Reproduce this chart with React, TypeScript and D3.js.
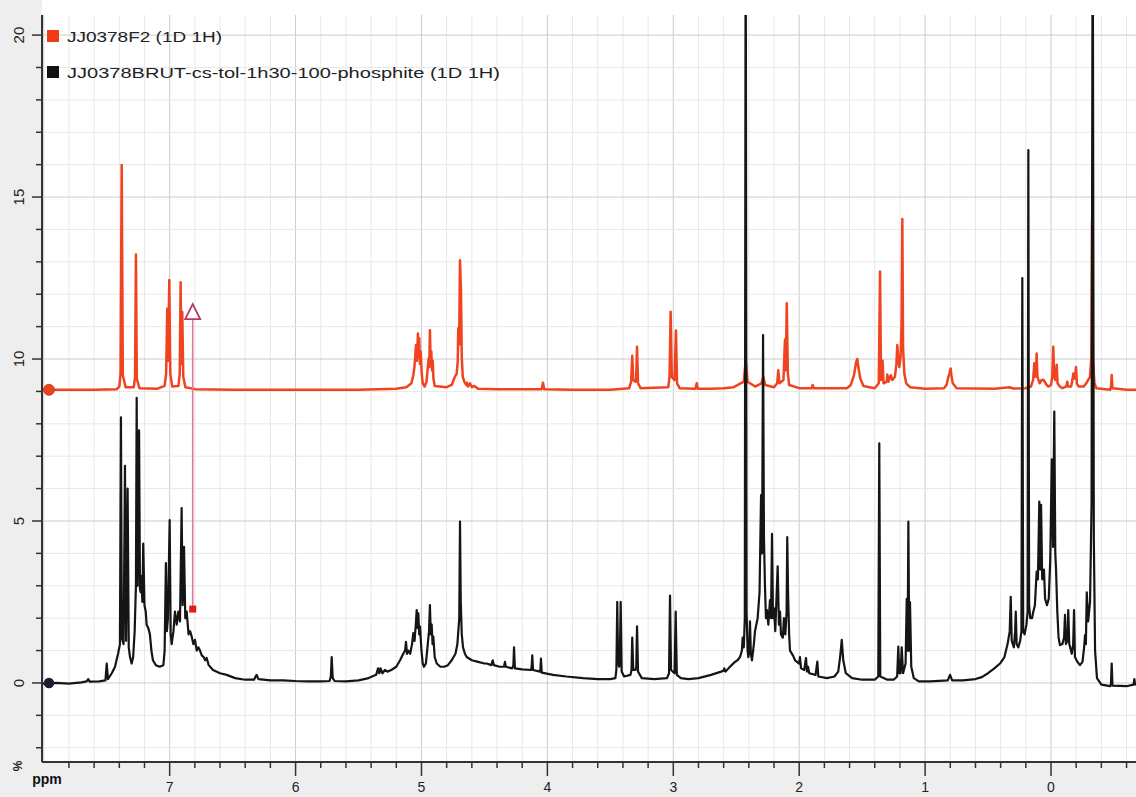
import React from "react";
import * as d3 from "d3";

const W = 1136;
const H = 797;
const M = { left: 42, right: 1136, top: 15, bottom: 762 };

const ppmDomain: [number, number] = [8.014, -0.675];
const intensityDomain: [number, number] = [-2.44, 20.62];
const xLabelTicks = [7, 6, 5, 4, 3, 2, 1, 0];
const yLabelTicks = [0, 5, 10, 15, 20];
const seriesNames = ["JJ0378F2 (1D 1H)", "JJ0378BRUT-cs-tol-1h30-100-phosphite (1D 1H)"];
const redOffset = 9.05;
const markerPpm = 6.817;
const markerTopValue = 11.45;
const markerBottomValue = 2.28;

// black spectrum: [ppm, intensity]
const blackTrace: [number, number][] = [
[8.014,-0.02],[7.9,0.0],[7.8,-0.02],[7.7,0.02],[7.66,0.05],[7.647,0.12],[7.635,0.04],[7.56,0.05],[7.51,0.08],[7.50,0.6],[7.49,0.12],[7.46,0.3],[7.434,0.5],[7.41,0.9],[7.395,1.2],[7.387,8.2],[7.38,1.4],[7.366,1.2],[7.355,6.7],[7.346,1.3],[7.334,6.0],[7.325,1.1],[7.315,0.8],[7.302,0.6],[7.29,0.8],[7.278,1.6],[7.268,3.0],[7.262,8.8],[7.255,3.0],[7.243,7.8],[7.236,2.9],[7.23,2.8],[7.223,3.3],[7.217,2.5],[7.21,4.3],[7.2,2.4],[7.19,2.2],[7.183,1.8],[7.17,1.7],[7.157,1.5],[7.145,1.0],[7.133,0.7],[7.11,0.55],[7.08,0.5],[7.05,0.55],[7.04,1.0],[7.03,3.7],[7.022,1.6],[7.014,2.0],[7.0,5.03],[6.992,1.5],[6.984,1.2],[6.97,1.6],[6.958,2.2],[6.944,1.8],[6.931,2.2],[6.918,1.9],[6.905,5.4],[6.897,2.4],[6.886,4.2],[6.876,2.0],[6.865,2.2],[6.85,1.5],[6.838,1.6],[6.825,1.43],[6.812,1.2],[6.799,1.33],[6.785,1.0],[6.772,1.1],[6.759,1.0],[6.745,0.85],[6.73,0.8],[6.718,0.7],[6.706,0.77],[6.69,0.55],[6.656,0.4],[6.6,0.3],[6.547,0.25],[6.48,0.15],[6.4,0.1],[6.33,0.1],[6.32,0.18],[6.309,0.25],[6.295,0.12],[6.2,0.08],[6.1,0.08],[6.0,0.06],[5.9,0.05],[5.8,0.05],[5.73,0.06],[5.72,0.2],[5.713,0.8],[5.705,0.15],[5.69,0.06],[5.6,0.05],[5.5,0.08],[5.42,0.15],[5.36,0.25],[5.345,0.45],[5.335,0.3],[5.325,0.45],[5.31,0.3],[5.29,0.4],[5.27,0.35],[5.24,0.4],[5.2,0.5],[5.17,0.7],[5.145,0.9],[5.13,1.0],[5.123,1.27],[5.115,0.9],[5.105,1.0],[5.09,0.9],[5.075,1.2],[5.065,1.54],[5.055,1.3],[5.045,1.8],[5.038,2.25],[5.032,1.7],[5.025,2.15],[5.018,1.5],[5.012,1.74],[5.0,1.0],[4.99,0.6],[4.98,0.5],[4.965,0.6],[4.95,1.2],[4.94,1.6],[4.933,2.4],[4.926,1.5],[4.919,1.8],[4.912,1.2],[4.906,1.43],[4.895,0.8],[4.879,0.6],[4.85,0.5],[4.82,0.5],[4.79,0.55],[4.76,0.7],[4.73,0.9],[4.715,1.2],[4.70,2.0],[4.694,4.98],[4.688,2.5],[4.68,1.5],[4.67,1.1],[4.655,0.9],[4.641,0.8],[4.6,0.7],[4.55,0.65],[4.5,0.6],[4.482,0.6],[4.445,0.55],[4.434,0.7],[4.425,0.55],[4.38,0.5],[4.345,0.5],[4.337,0.65],[4.33,0.5],[4.28,0.45],[4.27,0.55],[4.265,1.1],[4.258,0.45],[4.2,0.42],[4.13,0.4],[4.125,0.5],[4.12,0.85],[4.114,0.4],[4.06,0.35],[4.055,0.45],[4.051,0.75],[4.045,0.32],[3.955,0.25],[3.85,0.2],[3.717,0.15],[3.6,0.12],[3.5,0.12],[3.46,0.15],[3.452,0.4],[3.445,2.5],[3.438,0.6],[3.43,0.5],[3.425,0.6],[3.418,2.5],[3.41,0.35],[3.39,0.2],[3.34,0.25],[3.332,0.4],[3.326,1.4],[3.318,0.4],[3.30,0.4],[3.294,0.5],[3.288,1.75],[3.28,0.35],[3.25,0.15],[3.15,0.12],[3.05,0.15],[3.034,0.3],[3.026,2.7],[3.018,0.4],[2.99,0.3],[2.981,2.2],[2.972,0.25],[2.94,0.15],[2.88,0.12],[2.8,0.15],[2.7,0.25],[2.62,0.35],[2.60,0.38],[2.595,0.45],[2.585,0.35],[2.55,0.5],[2.51,0.65],[2.49,0.7],[2.47,0.8],[2.455,1.0],[2.449,1.4],[2.44,1.1],[2.432,2.0],[2.425,25],[2.418,2.2],[2.41,1.0],[2.404,0.8],[2.397,1.0],[2.391,1.9],[2.384,0.9],[2.375,0.7],[2.36,1.2],[2.351,1.6],[2.33,2.0],[2.315,2.8],[2.303,5.8],[2.295,4.0],[2.287,10.74],[2.28,4.5],[2.272,3.0],[2.264,2.0],[2.256,2.25],[2.245,1.8],[2.232,2.56],[2.224,2.0],[2.216,4.6],[2.208,2.0],[2.2,2.3],[2.19,1.6],[2.171,3.6],[2.161,1.8],[2.152,2.2],[2.145,1.5],[2.13,1.4],[2.121,2.0],[2.11,1.5],[2.1,2.2],[2.095,4.5],[2.088,2.7],[2.08,1.5],[2.073,1.0],[2.05,0.85],[2.033,0.7],[2.0,0.6],[1.994,0.8],[1.985,0.45],[1.96,0.4],[1.946,0.77],[1.938,0.35],[1.93,0.5],[1.92,0.3],[1.87,0.25],[1.856,0.66],[1.848,0.2],[1.78,0.15],[1.72,0.2],[1.69,0.35],[1.675,0.8],[1.662,1.33],[1.65,0.7],[1.63,0.3],[1.58,0.15],[1.5,0.1],[1.4,0.1],[1.372,0.2],[1.364,7.4],[1.356,0.2],[1.3,0.1],[1.25,0.1],[1.222,0.2],[1.213,1.12],[1.205,0.3],[1.195,0.3],[1.186,1.1],[1.175,0.3],[1.155,0.6],[1.146,2.6],[1.139,1.0],[1.133,4.98],[1.126,1.0],[1.12,2.5],[1.11,0.5],[1.09,0.15],[1.05,0.05],[0.96,0.05],[0.82,0.08],[0.802,0.25],[0.785,0.08],[0.7,0.08],[0.6,0.12],[0.55,0.18],[0.5,0.3],[0.45,0.45],[0.405,0.6],[0.37,0.8],[0.345,1.2],[0.328,1.6],[0.320,2.66],[0.312,1.3],[0.295,1.1],[0.285,1.6],[0.280,2.2],[0.273,1.2],[0.26,1.1],[0.245,1.3],[0.235,1.6],[0.228,12.5],[0.221,1.6],[0.21,1.5],[0.195,1.8],[0.186,2.2],[0.180,16.45],[0.174,2.4],[0.165,2.0],[0.15,2.0],[0.143,2.16],[0.128,2.4],[0.114,3.44],[0.104,3.2],[0.093,5.6],[0.086,3.5],[0.079,5.5],[0.07,3.2],[0.056,3.5],[0.047,2.6],[0.032,2.4],[0.018,2.6],[0.006,3.8],[-0.006,6.9],[-0.016,4.2],[-0.026,8.38],[-0.034,4.0],[-0.040,3.5],[-0.05,2.2],[-0.06,1.4],[-0.071,1.17],[-0.09,1.2],[-0.104,1.4],[-0.111,2.1],[-0.118,1.2],[-0.13,1.3],[-0.137,2.25],[-0.145,1.2],[-0.165,0.9],[-0.176,1.2],[-0.183,2.25],[-0.19,0.8],[-0.21,0.65],[-0.23,0.55],[-0.25,0.65],[-0.263,1.1],[-0.27,1.48],[-0.277,1.2],[-0.284,2.8],[-0.295,1.9],[-0.31,2.5],[-0.322,5.5],[-0.331,25],[-0.34,4.5],[-0.35,1.0],[-0.365,0.15],[-0.40,-0.05],[-0.47,-0.1],[-0.476,-0.05],[-0.482,0.6],[-0.488,-0.08],[-0.6,-0.1],[-0.655,-0.05],[-0.662,0.12],[-0.668,-0.05],[-0.675,-0.04]
];

// red spectrum: [ppm, intensity above its own baseline]
const redTrace: [number, number][] = [
[8.014,0],[7.6,0],[7.42,0.02],[7.4,0.1],[7.39,0.5],[7.381,6.94],[7.372,0.45],[7.35,0.08],[7.285,0.08],[7.275,0.4],[7.268,4.18],[7.261,0.35],[7.24,0.05],[7.1,0.03],[7.04,0.12],[7.028,0.5],[7.019,2.5],[7.012,0.9],[7.003,3.39],[6.995,0.5],[6.98,0.1],[6.93,0.12],[6.92,0.5],[6.913,3.32],[6.907,0.8],[6.9,2.4],[6.892,0.4],[6.875,0.08],[6.8,0.02],[6.5,0],[6.0,0],[5.5,0],[5.2,0.03],[5.12,0.08],[5.08,0.2],[5.065,0.45],[5.056,0.7],[5.05,1.0],[5.044,1.38],[5.036,0.9],[5.028,1.74],[5.022,1.0],[5.018,1.59],[5.012,0.8],[5.006,1.18],[4.998,0.5],[4.99,0.2],[4.975,0.1],[4.96,0.25],[4.952,0.6],[4.943,0.97],[4.938,0.7],[4.933,1.84],[4.927,0.8],[4.922,1.18],[4.916,0.6],[4.911,0.9],[4.905,0.35],[4.895,0.12],[4.8,0.08],[4.76,0.15],[4.735,0.4],[4.72,0.5],[4.712,0.9],[4.708,1.9],[4.701,1.4],[4.694,4.0],[4.686,3.0],[4.68,1.0],[4.672,0.4],[4.66,0.25],[4.645,0.15],[4.64,0.22],[4.63,0.1],[4.615,0.2],[4.6,0.08],[4.58,0.12],[4.55,0.03],[4.4,0.02],[4.2,0.02],[4.045,0.02],[4.035,0.22],[4.025,0.02],[3.8,0.0],[3.5,0.0],[3.35,0.05],[3.335,0.25],[3.326,1.05],[3.318,0.3],[3.30,0.25],[3.295,0.35],[3.288,1.33],[3.28,0.2],[3.26,0.05],[3.04,0.08],[3.03,0.4],[3.021,2.41],[3.012,0.4],[2.99,0.3],[2.979,1.83],[2.97,0.2],[2.95,0.05],[2.825,0.03],[2.814,0.2],[2.805,0.03],[2.7,0.03],[2.6,0.05],[2.52,0.08],[2.44,0.25],[2.425,0.9],[2.41,0.25],[2.35,0.1],[2.30,0.2],[2.285,0.4],[2.27,0.15],[2.2,0.08],[2.175,0.2],[2.166,0.6],[2.157,0.2],[2.125,0.3],[2.113,1.55],[2.106,0.6],[2.099,2.67],[2.09,0.5],[2.08,0.15],[2.0,0.05],[1.9,0.05],[1.893,0.15],[1.886,0.05],[1.62,0.05],[1.59,0.15],[1.565,0.45],[1.548,0.85],[1.539,0.95],[1.53,0.7],[1.515,0.35],[1.49,0.12],[1.4,0.05],[1.368,0.2],[1.358,3.65],[1.35,0.3],[1.338,0.9],[1.33,0.2],[1.305,0.25],[1.3,0.47],[1.292,0.25],[1.273,0.45],[1.26,0.3],[1.24,0.4],[1.228,0.8],[1.221,1.38],[1.212,0.9],[1.205,0.7],[1.195,1.0],[1.187,2.0],[1.181,5.27],[1.175,1.3],[1.165,0.5],[1.15,0.2],[1.12,0.08],[1.0,0.03],[0.85,0.05],[0.83,0.15],[0.815,0.4],[0.807,0.5],[0.797,0.66],[0.79,0.4],[0.78,0.2],[0.75,0.05],[0.45,0.03],[0.33,0.08],[0.3,0.04],[0.2,0.05],[0.16,0.1],[0.142,0.3],[0.133,0.82],[0.125,0.4],[0.119,0.5],[0.114,1.12],[0.108,0.4],[0.09,0.2],[0.075,0.3],[0.061,0.31],[0.05,0.25],[0.035,0.15],[0.02,0.1],[0.0,0.15],[-0.01,0.4],[-0.018,1.33],[-0.025,0.4],[-0.035,0.3],[-0.045,0.77],[-0.052,0.2],[-0.07,0.1],[-0.09,0.05],[-0.12,0.1],[-0.129,0.25],[-0.135,0.1],[-0.16,0.1],[-0.17,0.3],[-0.177,0.5],[-0.185,0.35],[-0.193,0.5],[-0.199,0.7],[-0.205,0.2],[-0.22,0.1],[-0.26,0.1],[-0.28,0.2],[-0.294,0.3],[-0.31,0.4],[-0.32,1.0],[-0.326,5.2],[-0.332,1.0],[-0.345,0.2],[-0.36,0.05],[-0.47,0.0],[-0.477,0.1],[-0.482,0.46],[-0.488,0.05],[-0.6,0.0],[-0.675,0.0]
];

const FONT = "'Liberation Sans', Arial, sans-serif";

export default function App() {
  const x = d3.scaleLinear().domain(ppmDomain).range([M.left, M.right]);
  const y = d3.scaleLinear().domain(intensityDomain).range([M.bottom, M.top]);

  const sortDesc = (arr: [number, number][]) => [...arr].sort((a, b) => b[0] - a[0]);
  const line = d3.line<[number, number]>().x((d) => x(d[0])).y((d) => y(d[1]));
  const redLine = d3.line<[number, number]>().x((d) => x(d[0])).y((d) => y(d[1] + redOffset));

  const xGrid = d3.range(-3, 41).map((i) => ({ v: i * 0.2, major: i % 5 === 0 }));
  const yGrid = d3.range(-2, 21).map((v) => ({ v, major: v % 5 === 0 }));

  const mx = x(markerPpm);
  const tTop = y(markerTopValue);

  return (
    <svg width={W} height={H} style={{ position: "absolute", left: 0, top: 0, background: "#fff" }}>
      <defs>
        <clipPath id="plotClip">
          <rect x={M.left} y={M.top} width={M.right - M.left} height={M.bottom - M.top} />
        </clipPath>
      </defs>
      <rect x={0} y={0} width={W} height={H} fill="#ffffff" />
      <rect x={0} y={0} width={M.left} height={H} fill="#eeeeee" />
      <rect x={0} y={M.bottom} width={W} height={H - M.bottom} fill="#eeeeee" />

      <g clipPath="url(#plotClip)">
        {xGrid.map((g, i) => (
          <line key={"xg" + i} x1={x(g.v)} x2={x(g.v)} y1={M.top} y2={M.bottom}
            stroke={g.major ? "#cccccc" : "#e8e8e8"} strokeWidth={1} />
        ))}
        {yGrid.map((g, i) => (
          <line key={"yg" + i} x1={M.left} x2={M.right} y1={y(g.v)} y2={y(g.v)}
            stroke={g.major ? "#cccccc" : "#e8e8e8"} strokeWidth={1} />
        ))}
        <path d={redLine(sortDesc(redTrace)) || ""} fill="none" stroke="#f04420" strokeWidth={2.5} strokeLinejoin="round" />
        <path d={line(sortDesc(blackTrace)) || ""} fill="none" stroke="#151515" strokeWidth={2.2} strokeLinejoin="round" />
      </g>

      {/* annotation marker */}
      <line x1={mx} x2={mx} y1={tTop + 7} y2={y(markerBottomValue)} stroke="#e07a9a" strokeWidth={1.6} />
      <path d={`M${mx},${tTop - 8} L${mx - 7.5},${tTop + 7} L${mx + 7.5},${tTop + 7} Z`} fill="#ffffff" stroke="#b83868" strokeWidth={1.8} />
      <rect x={mx - 3.5} y={y(markerBottomValue) - 3.5} width={7} height={7} fill="#e41a1a" />

      {/* baseline dots */}
      <circle cx={49} cy={y(redOffset)} r={5.5} fill="#e8431f" stroke="#c83010" strokeWidth={0.8} />
      <circle cx={49} cy={y(0)} r={5.2} fill="#1d1d30" />

      {/* axes */}
      <line x1={M.left} x2={M.left} y1={M.top} y2={M.bottom} stroke="#333" strokeWidth={2} />
      <line x1={M.left} x2={M.right} y1={M.bottom} y2={M.bottom} stroke="#333" strokeWidth={2} />
      {xGrid.filter((g) => x(g.v) > M.left + 2).map((g, i) => (
        <line key={"xt" + i} x1={x(g.v)} x2={x(g.v)} y1={M.bottom} y2={M.bottom + (g.major ? 14 : 6)} stroke="#333" strokeWidth={1.5} />
      ))}
      {yGrid.map((g, i) => (
        <line key={"yt" + i} x1={M.left} x2={M.left - (g.major ? 10 : 6)} y1={y(g.v)} y2={y(g.v)} stroke="#333" strokeWidth={1.5} />
      ))}
      {xLabelTicks.map((v) => (
        <text key={"xl" + v} x={x(v)} y={792} textAnchor="middle" fontFamily={FONT} fontSize={14} fill="#222">{v}</text>
      ))}
      {yLabelTicks.map((v) => (
        <text key={"yl" + v} transform={`translate(19,${y(v)}) rotate(-90)`} textAnchor="middle" dy="0.35em" fontFamily={FONT} fontSize={15} fill="#222">{v}</text>
      ))}
      <text transform="translate(18,766) rotate(-90)" textAnchor="middle" dy="0.35em" fontFamily={FONT} fontSize={12} fontWeight="bold" fill="#222">%</text>
      <text x={47} y={784} textAnchor="middle" fontFamily={FONT} fontSize={14} fontWeight="bold" fill="#111">ppm</text>

      {/* legend */}
      <rect x={47} y={30} width={12} height={12} fill="#f03c14" />
      <text x={67} y={42} fontFamily={FONT} fontSize={14} fill="#222" textLength={155} lengthAdjust="spacingAndGlyphs">{seriesNames[0]}</text>
      <rect x={47} y={66} width={12} height={12} fill="#111111" />
      <text x={67} y={78} fontFamily={FONT} fontSize={14} fill="#222" textLength={433} lengthAdjust="spacingAndGlyphs">{seriesNames[1]}</text>
    </svg>
  );
}
